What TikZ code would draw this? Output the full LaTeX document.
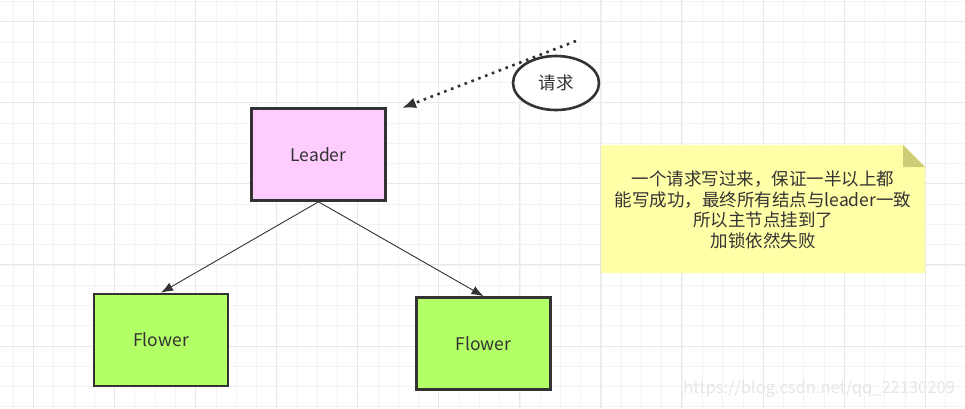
\documentclass[tikz,border=0pt]{standalone}
\usepackage{fontspec}
\setmainfont{Noto Sans CJK SC}
\usetikzlibrary{arrows.meta,shapes.geometric}
\definecolor{txt}{HTML}{333333}
\definecolor{edge}{HTML}{333333}
\definecolor{leaderfill}{HTML}{FFCCFF}
\definecolor{flowerfill}{HTML}{B3FF66}
\definecolor{notefill}{HTML}{FFFFA8}
\definecolor{notefold}{HTML}{CDCD78}
\definecolor{gridminor}{HTML}{F3F3F3}
\definecolor{gridmajor}{HTML}{E8E8E8}
\definecolor{wm}{HTML}{E6E6E6}
\tikzset{
  boxnode/.style={draw=edge, line width=2.6pt, minimum width=134pt, minimum height=92pt, text=txt, font=\fontsize{17.5}{20}\selectfont},
  link/.style={draw=edge, line width=0.9pt, -{Latex[length=12pt,width=9pt]}},
  req/.style={draw=edge, line width=2.6pt, dash pattern=on 2.6pt off 4.7pt, -{Latex[length=14pt,width=11pt]}}
}
\begin{document}
\begin{tikzpicture}[x=1pt,y=-1pt]
\useasboundingbox (0,0) rectangle (965,408);
\fill[white] (0,0) rectangle (965,408);
% grid
\foreach \i in {0,...,47} \draw[gridminor, line width=1pt] ({13.3+20.27*\i},0) -- ++(0,408);
\foreach \j in {0,...,20} \draw[gridminor, line width=1pt] (0,{1.5+20.27*\j}) -- ++(965,0);
\foreach \i in {0,...,11} \draw[gridmajor, line width=1pt] ({33.3+81.08*\i},0) -- ++(0,408);
\foreach \j in {0,...,4} \draw[gridmajor, line width=1pt] (0,{21.7+81.08*\j}) -- ++(965,0);
% watermark
\node[text=wm, font=\fontsize{16.5}{18}\selectfont, anchor=east, inner sep=0pt] (wmk) at (955,389) {https://blog.csdn.net/qq\_22130209};
% boxes
\node[boxnode, fill=leaderfill] (leader) at (318.5,154.5) {Leader};
\node[boxnode, fill=flowerfill] (f1) at (161,340) {Flower};
\node[boxnode, fill=flowerfill] (f2) at (483.5,343.5) {Flower};
\draw[link] (leader.south) -- (f1.north);
\draw[link] (leader.south) -- (f2.north);
% request
\node[ellipse, draw=edge, line width=2.6pt, fill=white, minimum width=86pt, minimum height=54pt, inner sep=0pt, text=txt, font=\fontsize{17.5}{20}\selectfont] (req) at (556,83) {请求};
\coordinate (rs) at (576,41);
\coordinate (re) at (402,108);
\draw[req] (rs) -- (re);
% note
\fill[notefill] (601,145) -- (903,145) -- (925,167) -- (925,273) -- (601,273) -- cycle;
\fill[notefold] (903,145) -- (925,167) -- (903,167) -- cycle;
\node[text=txt, align=center, font=\fontsize{17.5}{20.6}\selectfont] (note) at (763,210) {一个请求写过来，保证一半以上都\\能写成功，最终所有结点与leader一致\\所以主节点挂到了\\加锁依然失败};
\end{tikzpicture}
\end{document}
